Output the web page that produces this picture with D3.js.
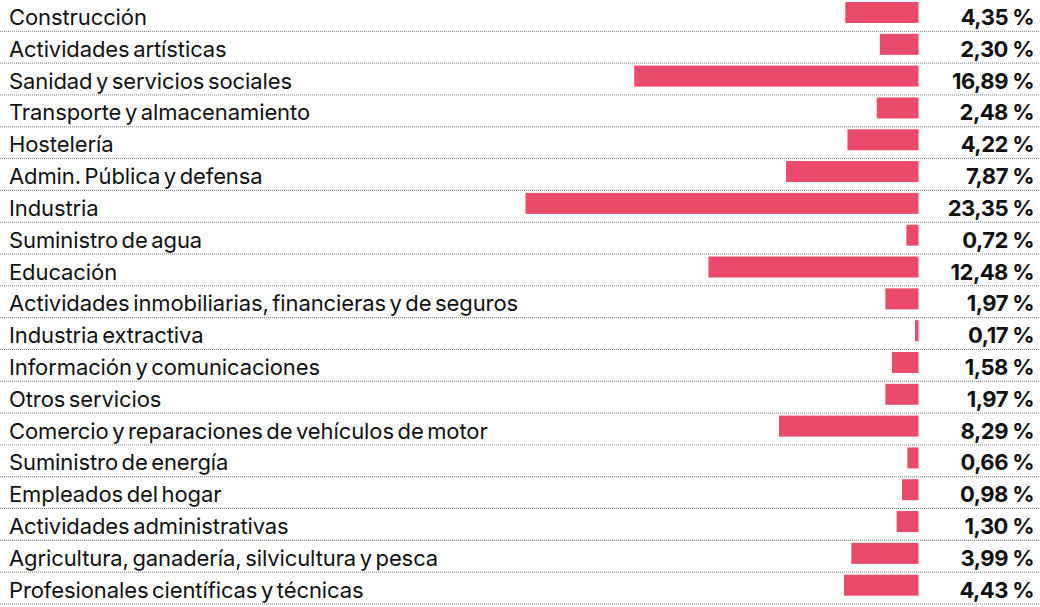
<!DOCTYPE html>
<html>
<head>
<meta charset="utf-8">
<script src="https://cdn.jsdelivr.net/npm/d3@7"></script>
<style>
  html, body { margin: 0; padding: 0; background: #fff; }
  svg { display: block; }
  .label { font-family: Inter, "Noto Sans", sans-serif; font-size: 22px; fill: #111; letter-spacing: -0.1px; word-spacing: -2.5px; }
  .value { font-family: Inter, "Noto Sans", sans-serif; font-size: 22px; font-weight: 700; fill: #111; letter-spacing: -0.5px; word-spacing: -0.5px; }
</style>
</head>
<body>
<div id="chart"></div>
<script>
// sectors, top to bottom
var sectors = [
  "Construcción",
  "Actividades artísticas",
  "Sanidad y servicios sociales",
  "Transporte y almacenamiento",
  "Hostelería",
  "Admin. Pública y defensa",
  "Industria",
  "Suministro de agua",
  "Educación",
  "Actividades inmobiliarias, financieras y de seguros",
  "Industria extractiva",
  "Información y comunicaciones",
  "Otros servicios",
  "Comercio y reparaciones de vehículos de motor",
  "Suministro de energía",
  "Empleados del hogar",
  "Actividades administrativas",
  "Agricultura, ganadería, silvicultura y pesca",
  "Profesionales científicas y técnicas"
];
// share in %
var shares = [4.35, 2.30, 16.89, 2.48, 4.22, 7.87, 23.35, 0.72, 12.48, 1.97, 0.17, 1.58, 1.97, 8.29, 0.66, 0.98, 1.30, 3.99, 4.43];

var width = 1040, height = 607;
var barRight = 918.5;

var svg = d3.select("#chart").append("svg")
    .attr("width", width)
    .attr("height", height);

var y = d3.scaleBand()
    .domain(sectors)
    .range([0, 604.5]);

// bars grow to the left from barRight
var x = d3.scaleLinear()
    .domain([0, 23.35])
    .range([0, 393]);

var fmt = function(v){ return v.toFixed(2).replace(".", ",") + " %"; };

var row = svg.selectAll(".row")
    .data(sectors)
    .enter().append("g")
    .attr("class", "row")
    .attr("transform", function(d){ return "translate(0," + y(d) + ")"; });

// dotted separators
row.append("line")
    .attr("x1", 0).attr("x2", width)
    .attr("y1", y.bandwidth() - 0.5).attr("y2", y.bandwidth() - 0.5)
    .attr("stroke", "#7a7a7a")
    .attr("stroke-width", 1)
    .attr("stroke-dasharray", "1,1");

row.append("rect")
    .attr("x", function(d,i){ return barRight - Math.max(x(shares[i]), 3.5); })
    .attr("y", 2)
    .attr("width", function(d,i){ return Math.max(x(shares[i]), 3.5); })
    .attr("height", 21)
    .attr("fill", "#ea4b6a");

row.append("text")
    .attr("class", "label")
    .attr("x", 9)
    .attr("y", 25)
    .text(function(d){ return d; });

row.append("text")
    .attr("class", "value")
    .attr("x", 1034)
    .attr("y", 25)
    .attr("text-anchor", "end")
    .text(function(d,i){ return fmt(shares[i]); });
</script>
</body>
</html>
